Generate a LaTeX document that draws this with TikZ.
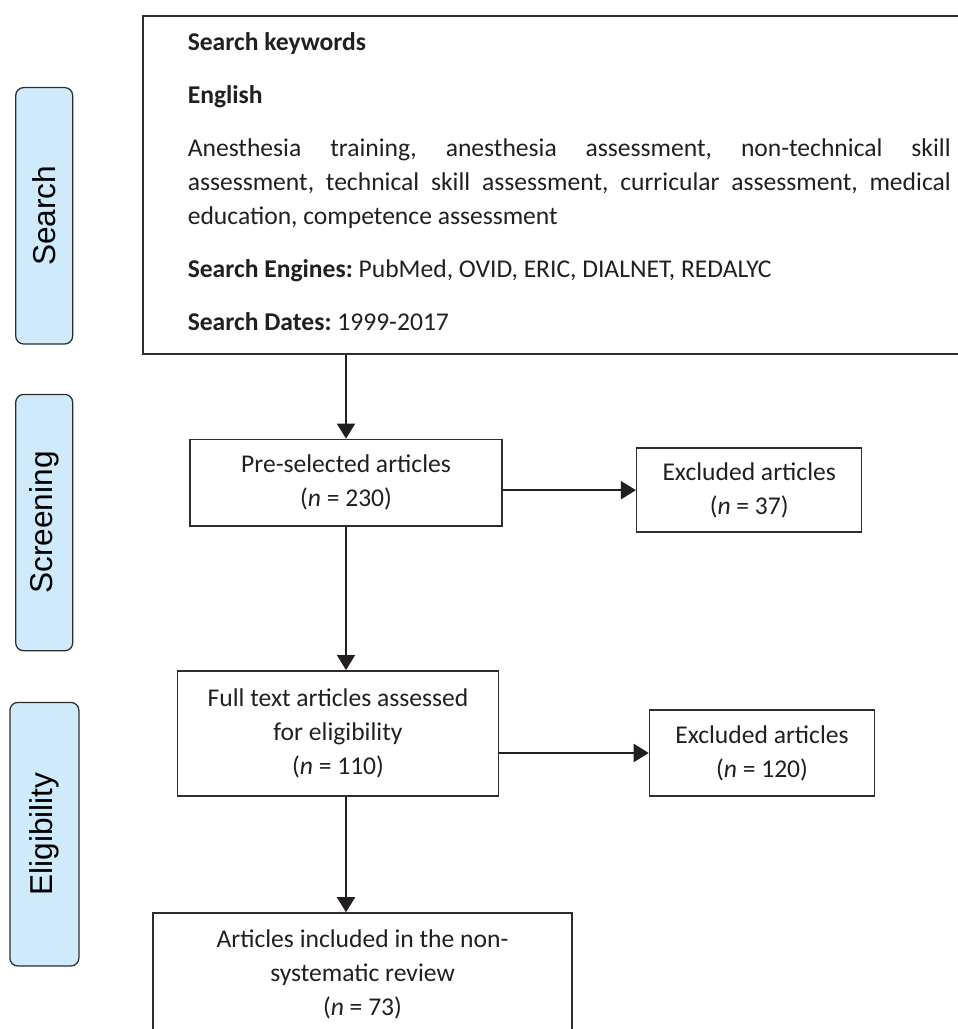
\documentclass[tikz,border=0pt]{standalone}
\usepackage{fontspec}
\setmainfont{Carlito}
\newfontfamily\stagefont{Liberation Sans}
\usetikzlibrary{arrows.meta,positioning}
\definecolor{stageblue}{RGB}{207,234,250}
\definecolor{boxline}{RGB}{45,45,45}
\definecolor{boxtext}{RGB}{35,31,32}
\tikzset{
	stage/.style={draw=boxline, line width=0.9pt, fill=stageblue, rounded corners=0.2cm,
		rotate=90, minimum width=6.41cm, minimum height=1.425cm, inner sep=0pt,
		font=\stagefont\fontsize{22.5}{27}\selectfont, text=black},
	keybox/.style={draw=boxline, line width=1.1pt, text width=19.075cm, inner xsep=1.125cm,
		inner ysep=0pt, align=justify, font=\fontsize{18.2}{24}\selectfont\frenchspacing, text=boxtext},
	flowbox/.style={draw=boxline, line width=1.1pt, align=center, inner sep=0pt,
		font=\fontsize{18.2}{24.2}\selectfont, text=boxtext},
	arrow/.style={draw=boxtext, line width=1.4pt, -{Triangle[width=0.45cm,length=0.375cm]}}
}
\begin{document}
\begin{tikzpicture}
	\useasboundingbox (0,0) rectangle (23.925,25.725);

	\node[stage] (searchstage) at (1.105,20.33) {Search};
	\node[stage] (screenstage) at (1.105,12.66) {Screening};
	\node[stage, minimum width=6.59cm, minimum height=1.725cm] (eligstage) at (1.11,4.87) {Eligibility};

	\node[keybox, anchor=north west] (keywords) at (3.55,25.35) {\parindent=0pt\parskip=13.7pt
		\rule{0pt}{24.9pt}\textbf{Search keywords}\par
		\textbf{English}\par
		Anesthesia training, anesthesia assessment, non-technical skill\linebreak
		assessment, technical skill assessment, curricular assessment, medical\linebreak
		education, competence assessment\par
		\textbf{Search Engines:} PubMed, OVID, ERIC, DIALNET, REDALYC\par
		\textbf{Search Dates:} 1999-2017\rule[-17pt]{0pt}{17pt}};

	\node[flowbox, minimum width=7.8cm, minimum height=2.16cm] (preselected) at (8.65,13.66)
		{Pre-selected articles\\(\textit{n} = 230)};
	\node[flowbox, minimum width=5.625cm, minimum height=2.1cm] (excludedA) at (18.73,13.47)
		{Excluded articles\\(\textit{n} = 37)};
	\node[flowbox, minimum width=8.02cm, minimum height=3.13cm] (fulltext) at (8.45,7.39)
		{Full text articles assessed\\for eligibility\\(\textit{n} = 110)};
	\node[flowbox, minimum width=5.625cm, minimum height=2.15cm] (excludedB) at (19.05,6.9)
		{Excluded articles\\(\textit{n} = 120)};
	\node[flowbox, minimum width=10.475cm, minimum height=3.075cm] (included) at (9.0625,1.3625)
		{Articles included in the non-\\systematic review\\(\textit{n} = 73)};

	\draw[arrow] (keywords.south -| preselected.north) -- (preselected.north);
	\draw[arrow] (preselected.east |- excludedA.west) -- (excludedA.west);
	\draw[arrow] (preselected.south) -- (preselected.south |- fulltext.north);
	\draw[arrow] (fulltext.east |- excludedB.west) -- (excludedB.west);
	\draw[arrow] (preselected.south |- fulltext.south) -- (preselected.south |- included.north);
\end{tikzpicture}
\end{document}
